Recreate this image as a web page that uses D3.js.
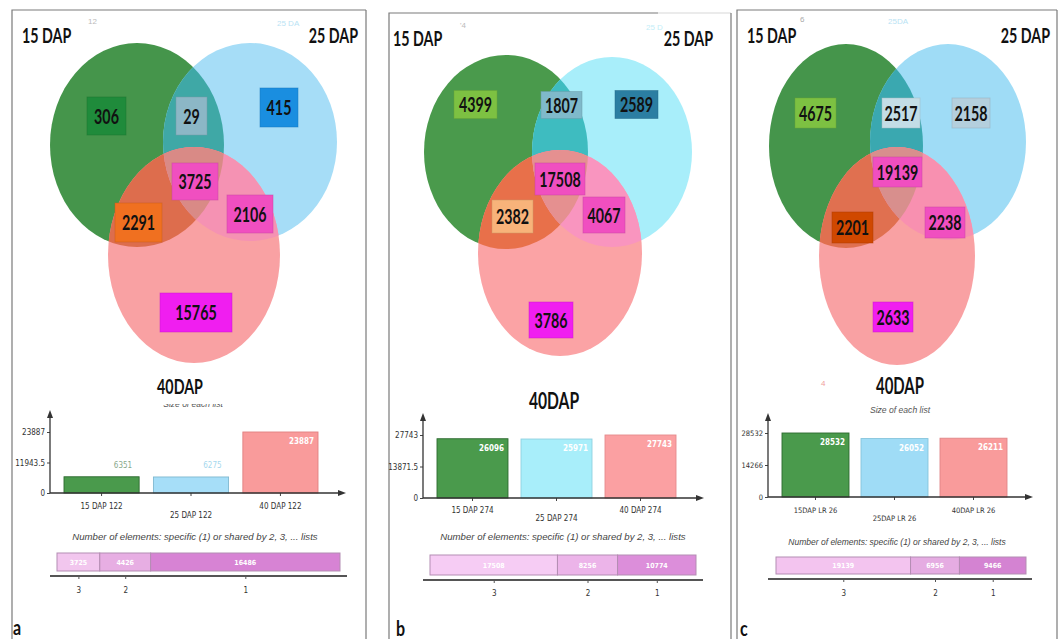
<!DOCTYPE html>
<html><head><meta charset="utf-8">
<script src="https://cdn.jsdelivr.net/npm/d3@7"></script>
<style>body{margin:0;background:#fff} svg{display:block}</style>
</head><body>
<svg id="chart" width="1059" height="639"></svg>
<script>
// ---------------- DATA ----------------
const panelLetters = ["a", "b", "c"];
const setTitles = ["15 DAP", "25 DAP", "40DAP"];
const vennRegions = ["15 only", "15∩25", "25 only", "15∩25∩40", "15∩40", "25∩40", "40 only"];
const vennA = [306, 29, 415, 3725, 2291, 2106, 15765];
const vennB = [4399, 1807, 2589, 17508, 2382, 4067, 3786];
const vennC = [4675, 2517, 2158, 19139, 2201, 2238, 2633];

const listNamesA = ["15 DAP 122", "25 DAP 122", "40 DAP 122"];
const listNamesB = ["15 DAP 274", "25 DAP 274", "40 DAP 274"];
const listNamesC = ["15DAP LR 26", "25DAP LR 26", "40DAP LR 26"];
const listSizesA = [6351, 6275, 23887];
const listSizesB = [26096, 25971, 27743];
const listSizesC = [28532, 26052, 26211];
const yTicksA = [0, 11943.5, 23887];
const yTicksB = [0, 13871.5, 27743];
const yTicksC = [0, 14266, 28532];

const sharedLabels = ["3", "2", "1"];
const sharedA = [3725, 4426, 16486];
const sharedB = [17508, 8256, 10774];
const sharedC = [19139, 6956, 9466];

const noteText = "Number of elements: specific (1) or shared by 2, 3, ... lists";
const sizeTitle = "Size of each list";

// ---------------- LAYOUT / STYLE ----------------
const BOLD = "Lato,'Open Sans',sans-serif";
const NARROW = "'Liberation Sans Narrow','DejaVu Sans Condensed',sans-serif";
const SANS = "'Liberation Sans',Arial,sans-serif";
const SQUEEZE = 0.68;

const layouts = [
  {
    venn: vennA, names: listNamesA, sizes: listSizesA, yTicks: yTicksA, shared: sharedA,
    frame: {x0: 12, x1: 366, y0: 10, x1Top: 366},
    titles: {t1: [22, 43], t2: [358, 43], t3: [180, 394], fs: 21, t3fs: 21},
    ell: [[137, 145, 87, 102], [250, 142, 87, 99], [194, 255, 86, 108]],
    col: {G: "#45954b", B: "#a6ddf7", P: "#f9a1a3", GB: "#3fa8a6", GP: "#dd6d4d", BP: "#f592b3", GBP: "#d98a86"},
    boxes: [[106.5, 116, 39, 38], [191.5, 116, 31, 38], [279, 107.5, 38, 39], [195, 181.5, 46, 37], [138.5, 222.5, 47, 39], [250, 214, 46, 38], [196, 312.5, 72, 39]],
    boxCol: ["#1f8b3b", "#8cb7c6", "#1a8ee0", "#f04fc0", "#f07020", "#f04fc0", "#f01ef0"],
    numFs: 21,
    bar: {ax: 50, y0: 493, yTop: 432, arrowTop: 410, xEnd: 346, band: [64, 318], pad: 0.16, lab: [509, 518], fs: 8},
    barCol: ["#4a9a4c", "#a6def8", "#f99b9b"], barStroke: ["#2d6a2f", "#7fb8d0", "#e08080"],
    outCol: ["#8aa98c", "#a6d8ee", "#f99b9b"],
    note: {x: 195, y: 540, fs: 9.6},
    size: {x: 193, y: 407, clipY: 404, fs: 8.5},
    stack: {x: [57, 340], y: [553, 571], axY: 576, axX: [50, 347], labY: 593},
    stackCol: ["#f2c6ee", "#e7aee3", "#d783d4"],
    letter: [13, 635],
    ghosts: [["12", 88, 24, "#bbbbbb"], ["25 DA", 277, 26, "#b9e3f4"]]
  },
  {
    venn: vennB, names: listNamesB, sizes: listSizesB, yTicks: yTicksB, shared: sharedB,
    frame: {x0: 389, x1: 731, y0: 13, x1Top: 658},
    titles: {t1: [393, 46], t2: [713, 46], t3: [554, 409], fs: 21, t3fs: 23},
    ell: [[506, 152, 82, 97], [612, 152, 80, 95], [560, 253, 82, 103]],
    col: {G: "#4a9a4c", B: "#a8eefa", P: "#fba3a5", GB: "#3ebcc0", GP: "#e8704a", BP: "#f995bf", GBP: "#e59090"},
    boxes: [[475.5, 104.5, 43, 28], [561.5, 105, 41, 27], [636.5, 104.5, 43, 28], [560, 179, 50, 32], [512.5, 216.5, 41, 33], [604, 215, 42, 36], [551, 320, 44, 36]],
    boxCol: ["#7dc142", "#7fb9ca", "#2b7ea2", "#f04fc0", "#f8b37a", "#f04fc0", "#f01ef0"],
    numFs: 21,
    bar: {ax: 423, y0: 498, yTop: 435, arrowTop: 413, xEnd: 704, band: [437, 676], pad: 0.155, lab: [513, 521], fs: 8},
    barCol: ["#4a9a4c", "#a8eefa", "#fba0a2"], barStroke: ["#2d6a2f", "#8fd0e0", "#e58a8c"],
    outCol: ["#4a9a4c", "#a8eefa", "#fba0a2"],
    note: {x: 563, y: 540, fs: 9.6},
    size: null,
    stack: {x: [430, 696], y: [555, 575], axY: 580, axX: [423, 703], labY: 596},
    stackCol: ["#f6ccf4", "#ecb4e9", "#dc8eda"],
    letter: [396, 636],
    ghosts: [["'4", 460, 28, "#bbbbbb"], ["25 D", 646, 30, "#c4eef8"]]
  },
  {
    venn: vennC, names: listNamesC, sizes: listSizesC, yTicks: yTicksC, shared: sharedC,
    frame: {x0: 737, x1: 1057, y0: 10, x1Top: 1057},
    titles: {t1: [747, 43], t2: [1050, 43], t3: [900, 394], fs: 21, t3fs: 22},
    ell: [[846, 146, 77, 102], [948, 142, 78, 98], [897, 256, 78, 109]],
    col: {G: "#45954b", B: "#9fdcf6", P: "#f9a1a3", GB: "#3aa8b0", GP: "#e07050", BP: "#f890b0", GBP: "#d88f8d"},
    boxes: [[815.5, 113, 41, 30], [901, 113, 38, 30], [971, 113, 38, 30], [897.5, 172, 49, 30], [852.5, 227.5, 41, 31], [945, 222.5, 40, 31], [893, 317, 40, 30]],
    boxCol: ["#7dc142", "#c3dde6", "#b4cfdd", "#f04fc0", "#d04800", "#f04fc0", "#f01ef0"],
    numFs: 21,
    bar: {ax: 768, y0: 497, yTop: 433, arrowTop: 413, xEnd: 1033, band: [782, 1007], pad: 0.152, lab: [513, 521], fs: 7.5},
    barCol: ["#4a9a4c", "#9fdcf6", "#f99b9b"], barStroke: ["#2d6a2f", "#86c4dc", "#e08587"],
    outCol: ["#4a9a4c", "#9fdcf6", "#f99b9b"],
    note: {x: 897, y: 545, fs: 8.5},
    size: {x: 900, y: 413, clipY: 0, fs: 8.6},
    stack: {x: [776, 1026], y: [557, 574], axY: 579, axX: [768, 1032], labY: 596},
    stackCol: ["#f3c4ef", "#e5ace2", "#d483d2"],
    letter: [740, 636],
    ghosts: [["6", 800, 22, "#aaaaaa"], ["25DA", 888, 24, "#b9e3f4"], ["4", 821, 386, "#f0a0a0"]]
  }
];

// ---------------- DRAW ----------------
const svg = d3.select("#chart");
const defs = svg.append("defs");
svg.append("rect").attr("width", 1059).attr("height", 639).attr("fill", "#fff");

function ellipse(sel, e, fill) {
  return sel.append("ellipse").attr("cx", e[0]).attr("cy", e[1]).attr("rx", e[2]).attr("ry", e[3]).attr("fill", fill);
}
// bold, horizontally condensed text (the figure is squeezed horizontally)
function condText(sel, x, y, txt, fs, anchor, sx) {
  return sel.append("text")
    .attr("transform", `translate(${x},${y}) scale(${sx || SQUEEZE},1)`)
    .attr("text-anchor", anchor || "start")
    .attr("font-family", BOLD).attr("font-weight", "bold").attr("font-size", fs).attr("fill", "#111")
    .text(txt);
}

layouts.forEach((L, i) => {
  const g = svg.append("g");

  // frame
  const F = L.frame;
  g.append("path")
    .attr("d", `M${F.x0},639 V${F.y0} H${F.x1Top}`)
    .attr("fill", "none").attr("stroke", "#7a7a7a").attr("stroke-width", 1.2);
  if (F.x1Top < F.x1) {
    g.append("path").attr("d", `M${F.x1Top},${F.y0} H${F.x1}`)
      .attr("fill", "none").attr("stroke", "#d8d8d8").attr("stroke-width", 1.2);
  }
  g.append("path").attr("d", `M${F.x1},${F.y0} V639`)
    .attr("fill", "none").attr("stroke", "#7a7a7a").attr("stroke-width", 1.2);

  // faint remnant labels
  L.ghosts.forEach(gh => {
    g.append("text").attr("x", gh[1]).attr("y", gh[2]).text(gh[0])
      .attr("font-family", SANS).attr("font-size", 8).attr("fill", gh[3]);
  });

  // ---- Venn ----
  const ids = ["G", "B", "P"].map(k => `clip${i}${k}`);
  L.ell.forEach((e, k) => {
    defs.append("clipPath").attr("id", ids[k]).append("ellipse")
      .attr("cx", e[0]).attr("cy", e[1]).attr("rx", e[2]).attr("ry", e[3]);
  });
  ellipse(g, L.ell[0], L.col.G);
  ellipse(g, L.ell[1], L.col.B);
  ellipse(g, L.ell[2], L.col.P);
  ellipse(g.append("g").attr("clip-path", `url(#${ids[0]})`), L.ell[1], L.col.GB);
  ellipse(g.append("g").attr("clip-path", `url(#${ids[0]})`), L.ell[2], L.col.GP);
  ellipse(g.append("g").attr("clip-path", `url(#${ids[1]})`), L.ell[2], L.col.BP);
  ellipse(g.append("g").attr("clip-path", `url(#${ids[0]})`).append("g").attr("clip-path", `url(#${ids[1]})`), L.ell[2], L.col.GBP);

  const boxG = g.selectAll("g.box").data(L.venn).join("g").attr("class", "box")
    .attr("transform", (d, k) => `translate(${L.boxes[k][0]},${L.boxes[k][1]})`);
  boxG.append("rect")
    .attr("x", (d, k) => -L.boxes[k][2] / 2).attr("y", (d, k) => -L.boxes[k][3] / 2)
    .attr("width", (d, k) => L.boxes[k][2]).attr("height", (d, k) => L.boxes[k][3])
    .attr("fill", (d, k) => L.boxCol[k])
    .attr("stroke", (d, k) => d3.color(L.boxCol[k]).darker(0.5)).attr("stroke-width", 0.8).attr("stroke-opacity", 0.6);
  boxG.each(function (d) {
    condText(d3.select(this), 0, L.numFs * 0.36, d, L.numFs, "middle");
  });

  // titles
  const tt = L.titles;
  condText(g, tt.t1[0], tt.t1[1], setTitles[0], tt.fs, "start");
  condText(g, tt.t2[0], tt.t2[1], setTitles[1], tt.fs, "end");
  condText(g, tt.t3[0], tt.t3[1], setTitles[2], tt.t3fs, "middle");

  // "Size of each list"
  if (L.size) {
    const sid = `sclip${i}`;
    defs.append("clipPath").attr("id", sid).append("rect")
      .attr("x", 0).attr("y", L.size.clipY).attr("width", 1059).attr("height", 639);
    g.append("g").attr("clip-path", `url(#${sid})`).append("text")
      .attr("x", L.size.x).attr("y", L.size.y).text(sizeTitle)
      .attr("text-anchor", "middle").attr("font-style", "italic")
      .attr("font-family", SANS).attr("font-size", L.size.fs).attr("fill", "#555");
  }

  // ---- bar chart: size of each list ----
  const B = L.bar;
  const x = d3.scaleBand().domain(L.names).range(B.band).paddingInner(B.pad).paddingOuter(0);
  const y = d3.scaleLinear().domain([0, d3.max(L.yTicks)]).range([B.y0, B.yTop]);
  const short = d => (y(0) - y(d)) < 25;

  g.selectAll("rect.bar").data(L.sizes).join("rect").attr("class", "bar")
    .attr("x", (d, k) => x(L.names[k])).attr("width", x.bandwidth())
    .attr("y", d => y(d)).attr("height", d => y(0) - y(d))
    .attr("fill", (d, k) => L.barCol[k]).attr("stroke", (d, k) => L.barStroke[k]).attr("stroke-width", 0.9);

  g.selectAll("text.val").data(L.sizes).join("text").attr("class", "val")
    .attr("x", (d, k) => x(L.names[k]) + x.bandwidth() - (short(d) ? 7 : 4))
    .attr("y", d => short(d) ? y(d) - 9 : y(d) + 12)
    .attr("text-anchor", "end").text(d => d)
    .attr("font-family", NARROW).attr("font-size", 8)
    .attr("font-weight", d => short(d) ? "normal" : "bold")
    .attr("fill", (d, k) => short(d) ? L.outCol[k] : "#fff");

  // y axis
  const yAx = g.append("g").attr("transform", `translate(${B.ax},0)`)
    .call(d3.axisLeft(y).tickValues(L.yTicks).tickSize(3).tickSizeOuter(0).tickPadding(2).tickFormat(d => String(d)));
  yAx.select(".domain").remove();
  yAx.selectAll("text").attr("font-family", NARROW).attr("font-size", B.fs).attr("fill", "#333");
  yAx.selectAll("line").attr("stroke", "#444");
  g.append("line").attr("x1", B.ax).attr("x2", B.ax).attr("y1", B.y0).attr("y2", B.arrowTop + 4)
    .attr("stroke", "#333").attr("stroke-width", 1.3);
  g.append("path").attr("d", `M${B.ax},${B.arrowTop} l-3,8 h6 z`).attr("fill", "#333");

  // x axis
  const xAx = g.append("g").attr("transform", `translate(0,${B.y0})`)
    .call(d3.axisBottom(x).tickSize(3).tickSizeOuter(0));
  xAx.select(".domain").remove();
  xAx.selectAll("line").attr("stroke", "#444");
  xAx.selectAll("text").attr("y", (d, k) => (k % 2 ? B.lab[1] : B.lab[0]) - B.y0).attr("dy", 0)
    .attr("font-family", NARROW).attr("font-size", B.fs).attr("fill", "#333");
  g.append("line").attr("x1", B.ax).attr("x2", B.xEnd - 4).attr("y1", B.y0).attr("y2", B.y0)
    .attr("stroke", "#333").attr("stroke-width", 1.3);
  g.append("path").attr("d", `M${B.xEnd},${B.y0} l-8,-3 v6 z`).attr("fill", "#333");

  // note
  g.append("text").attr("x", L.note.x).attr("y", L.note.y).text(noteText)
    .attr("text-anchor", "middle").attr("font-style", "italic")
    .attr("font-family", SANS).attr("font-size", L.note.fs).attr("fill", "#444");

  // ---- stacked bar: shared by 3, 2, 1 ----
  const S = L.stack;
  const total = d3.sum(L.shared);
  const sx = d3.scaleLinear().domain([0, total]).range(S.x);
  const starts = d3.cumsum([0].concat(L.shared.slice(0, -1)));
  const centers = L.shared.map((v, k) => starts[k] + v / 2);

  g.selectAll("rect.seg").data(L.shared).join("rect").attr("class", "seg")
    .attr("x", (d, k) => sx(starts[k])).attr("width", d => sx(d) - sx(0))
    .attr("y", S.y[0]).attr("height", S.y[1] - S.y[0])
    .attr("fill", (d, k) => L.stackCol[k]).attr("stroke", "#b48db3").attr("stroke-width", 1);
  g.selectAll("text.seg").data(L.shared).join("text").attr("class", "seg")
    .attr("x", (d, k) => sx(centers[k])).attr("y", (S.y[0] + S.y[1]) / 2 + 2.5)
    .attr("text-anchor", "middle").text(d => d)
    .attr("font-family", NARROW).attr("font-size", 7).attr("font-weight", "bold").attr("fill", "#fff");

  const sAx = g.append("g").attr("transform", `translate(0,${S.axY})`)
    .call(d3.axisBottom(sx).tickValues(centers).tickSize(3).tickSizeOuter(0).tickFormat((d, k) => sharedLabels[k]));
  sAx.select(".domain").remove();
  sAx.selectAll("line").attr("stroke", "#555");
  sAx.selectAll("text").attr("y", S.labY - S.axY).attr("dy", 0)
    .attr("font-family", NARROW).attr("font-size", 8).attr("fill", "#333");
  g.append("line").attr("x1", S.axX[0]).attr("x2", S.axX[1]).attr("y1", S.axY).attr("y2", S.axY)
    .attr("stroke", "#555").attr("stroke-width", 2);

  // panel letter
  condText(g, L.letter[0], L.letter[1], panelLetters[i], 20, "start", 0.8);
});
</script>
</body></html>
